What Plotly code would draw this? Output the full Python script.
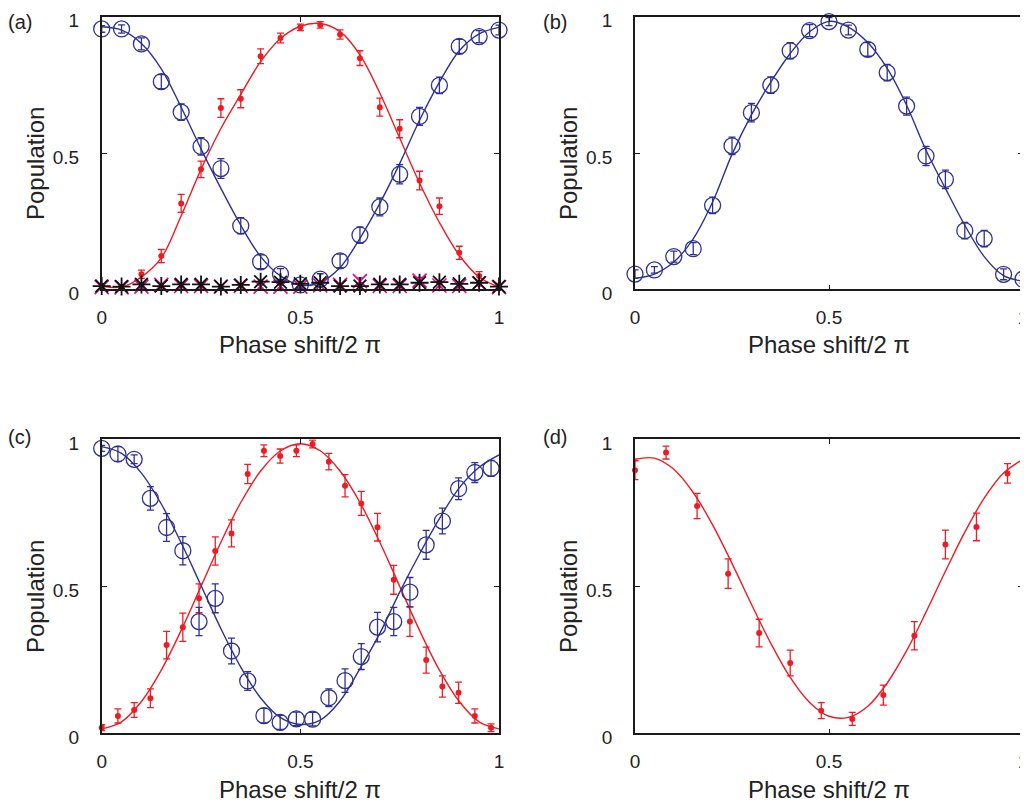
import plotly.graph_objects as go

# ---------------- data ----------------
x_a = [0, 0.05, 0.1, 0.15, 0.2, 0.25, 0.3, 0.35, 0.4, 0.45, 0.5,
       0.55, 0.6, 0.65, 0.7, 0.75, 0.8, 0.85, 0.9, 0.95, 1.0]
blue_a = [0.955, 0.955, 0.90, 0.762, 0.65, 0.524, 0.443, 0.233, 0.101, 0.056, 0.016,
          0.037, 0.104, 0.199, 0.302, 0.422, 0.634, 0.748, 0.891, 0.927, 0.951]
blue_a_err = [0.012, 0.015, 0.022, 0.026, 0.03, 0.032, 0.036, 0.03, 0.025, 0.02, 0.012,
              0.02, 0.025, 0.03, 0.033, 0.035, 0.033, 0.03, 0.026, 0.022, 0.018]
red_a = [0.012, 0.008, 0.055, 0.122, 0.315, 0.44, 0.665, 0.699, 0.855, 0.922, 0.961,
         0.97, 0.935, 0.848, 0.668, 0.589, 0.399, 0.305, 0.134, 0.049, 0.012]
red_a_err = [0.008, 0.008, 0.015, 0.024, 0.033, 0.03, 0.034, 0.033, 0.027, 0.018, 0.012,
             0.012, 0.017, 0.027, 0.033, 0.033, 0.034, 0.03, 0.024, 0.016, 0.01]
black_a = [0.012, 0.01, 0.018, 0.012, 0.018, 0.018, 0.01, 0.016, 0.028, 0.026, 0.02,
           0.024, 0.012, 0.012, 0.018, 0.018, 0.024, 0.026, 0.02, 0.024, 0.01]
magenta_a = [0.008, 0.007, 0.01, 0.016, 0.012, 0.012, 0.01, 0.012, 0.01, 0.01, 0.01,
             0.014, 0.016, 0.03, 0.012, 0.012, 0.032, 0.014, 0.012, 0.022, 0.008]
magenta_a_err = [0.006, 0.006, 0.006, 0.006, 0.006, 0.006, 0.006, 0.006, 0.006, 0.006, 0.006,
                 0.006, 0.006, 0.012, 0.006, 0.006, 0.012, 0.006, 0.006, 0.01, 0.006]

fit_x = [0, 0.05, 0.1, 0.15, 0.2, 0.25, 0.3, 0.35, 0.4, 0.45, 0.5,
         0.55, 0.6, 0.65, 0.7, 0.75, 0.8, 0.85, 0.9, 0.95, 1.0]
fit_red_a = [0.012, 0.008, 0.045, 0.115, 0.27, 0.44, 0.59, 0.715, 0.835, 0.92, 0.965,
             0.975, 0.945, 0.86, 0.72, 0.555, 0.39, 0.245, 0.125, 0.045, 0.008]
fit_blue_a = [0.963, 0.951, 0.902, 0.809, 0.668, 0.515, 0.37, 0.235, 0.12, 0.049, 0.015,
              0.025, 0.08, 0.187, 0.315, 0.461, 0.62, 0.76, 0.875, 0.937, 0.961]

x_b = x_a
blue_b = [0.056, 0.071, 0.12, 0.149, 0.308, 0.526, 0.648, 0.749, 0.875, 0.949, 0.982,
          0.951, 0.88, 0.795, 0.672, 0.489, 0.403, 0.215, 0.186, 0.055, 0.037]
blue_b_err = [0.015, 0.012, 0.02, 0.022, 0.03, 0.032, 0.034, 0.03, 0.03, 0.022, 0.015,
              0.018, 0.025, 0.03, 0.033, 0.035, 0.034, 0.03, 0.03, 0.02, 0.015]
fit_blue_b = [0.04, 0.056, 0.10, 0.185, 0.32, 0.495, 0.64, 0.76, 0.865, 0.945, 0.983,
              0.962, 0.905, 0.81, 0.675, 0.51, 0.37, 0.235, 0.12, 0.05, 0.03]

x_c = [0, 0.0408, 0.0817, 0.1225, 0.1633, 0.2042, 0.245, 0.2858, 0.3267, 0.3675,
       0.4083, 0.4492, 0.49, 0.5308, 0.5717, 0.6125, 0.6533, 0.6942, 0.735, 0.7758,
       0.8167, 0.8575, 0.8983, 0.9392, 0.98]
blue_c = [0.969, 0.950, 0.932, 0.799, 0.700, 0.621, 0.380, 0.459, 0.280, 0.178,
          0.060, 0.037, 0.049, 0.048, 0.121, 0.179, 0.261, 0.361, 0.380, 0.480,
          0.641, 0.722, 0.832, 0.887, 0.901]
blue_c_err = [0.01, 0.025, 0.015, 0.04, 0.047, 0.048, 0.048, 0.049, 0.044, 0.032,
              0.025, 0.024, 0.023, 0.023, 0.03, 0.04, 0.044, 0.05, 0.048, 0.05,
              0.049, 0.044, 0.037, 0.034, 0.027]
red_c = [0.019, 0.059, 0.079, 0.119, 0.300, 0.361, 0.459, 0.620, 0.680, 0.882,
         0.961, 0.943, 0.961, 0.984, 0.924, 0.842, 0.782, 0.701, 0.522, 0.380,
         0.249, 0.159, 0.138, 0.059, 0.019]
red_c_err = [0.01, 0.024, 0.025, 0.032, 0.047, 0.048, 0.049, 0.048, 0.046, 0.033,
             0.02, 0.024, 0.02, 0.013, 0.028, 0.038, 0.041, 0.047, 0.049, 0.05,
             0.044, 0.036, 0.036, 0.024, 0.013]
fit_red_c = [0.015, 0.039, 0.108, 0.215, 0.35, 0.5, 0.65, 0.785, 0.892, 0.961, 0.985,
             0.961, 0.892, 0.785, 0.65, 0.5, 0.35, 0.215, 0.108, 0.039, 0.015]
fit_blue_c = [0.975, 0.952, 0.885, 0.78, 0.648, 0.5025, 0.356, 0.225, 0.12, 0.053, 0.03,
              0.045, 0.11, 0.22, 0.34, 0.48, 0.61, 0.73, 0.835, 0.905, 0.947]

x_d = [0, 0.08, 0.16, 0.24, 0.32, 0.40, 0.48, 0.56, 0.64, 0.72, 0.80, 0.88, 0.96]
red_d = [0.895, 0.955, 0.773, 0.543, 0.341, 0.239, 0.077, 0.049, 0.130, 0.332, 0.642, 0.702, 0.884]
red_d_err = [0.032, 0.022, 0.043, 0.05, 0.047, 0.044, 0.027, 0.022, 0.034, 0.048, 0.049, 0.047, 0.033]
fit_red_d = [0.932, 0.936, 0.898, 0.819, 0.709, 0.578, 0.439, 0.306, 0.19, 0.105, 0.058,
             0.054, 0.092, 0.171, 0.281, 0.412, 0.551, 0.684, 0.80, 0.885, 0.932]

tick_vals = [0, 0.5, 1]
tick_text = ["0", "0.5", "1"]
panel_labels = ["(a)", "(b)", "(c)", "(d)"]
x_title = "Phase shift/2 π"
y_title = "Population"

# ---------------- style ----------------
BLUE = "#2E3192"
RED = "#ED1C24"
MAGENTA = "#EC008C"
OFF = 8                      # page body margin of the html page
W, H = 1028 - OFF, 806 - OFF
FONT = "Liberation Sans, Arial, sans-serif"


def px(p):
    return (p - OFF) / W


def py(p):
    return 1 - (p - OFF) / H


fig = go.Figure()


def blue_pts(x, y, e, ax):
    fig.add_trace(go.Scatter(
        x=x, y=y, mode="markers", xaxis="x" + ax, yaxis="y" + ax, cliponaxis=False,
        marker=dict(symbol="circle-open", size=16, color=BLUE, line=dict(width=1.3, color=BLUE)),
        error_y=dict(type="data", array=e, visible=True, color=BLUE, thickness=1.3, width=3.5),
        showlegend=False))


def red_pts(x, y, e, ax):
    fig.add_trace(go.Scatter(
        x=x, y=y, mode="markers", xaxis="x" + ax, yaxis="y" + ax, cliponaxis=False,
        marker=dict(symbol="circle", size=6, color=RED),
        error_y=dict(type="data", array=e, visible=True, color=RED, thickness=1.3, width=3.5),
        showlegend=False))


def fit_line(x, y, color, ax):
    fig.add_trace(go.Scatter(
        x=x, y=y, mode="lines", xaxis="x" + ax, yaxis="y" + ax,
        line=dict(color=color, width=1.4, shape="spline", smoothing=1.0),
        showlegend=False))


# panel (a)
fit_line(fit_x, fit_red_a, RED, "")
fit_line(fit_x, fit_blue_a, BLUE, "")
fig.add_trace(go.Scatter(
    x=x_a, y=magenta_a, mode="markers", cliponaxis=False,
    marker=dict(symbol="x-thin-open", size=14, color=MAGENTA, line=dict(width=1.6, color=MAGENTA)),
    error_y=dict(type="data", array=magenta_a_err, visible=True, color=MAGENTA, thickness=1.3, width=3),
    showlegend=False))
red_pts(x_a, red_a, red_a_err, "")
blue_pts(x_a, blue_a, blue_a_err, "")
fig.add_trace(go.Scatter(
    x=x_a, y=black_a, mode="markers", cliponaxis=False,
    marker=dict(symbol="asterisk-open", size=15, color="#111111", line=dict(width=1.8, color="#111111")),
    showlegend=False))

# panel (b)
fit_line(fit_x, fit_blue_b, BLUE, "2")
blue_pts(x_b, blue_b, blue_b_err, "2")

# panel (c)
fit_line(fit_x, fit_red_c, RED, "3")
fit_line(fit_x, fit_blue_c, BLUE, "3")
red_pts(x_c, red_c, red_c_err, "3")
blue_pts(x_c, blue_c, blue_c_err, "3")

# panel (d)
fit_line(fit_x, fit_red_d, RED, "4")
red_pts(x_d, red_d, red_d_err, "4")

# ---------------- axes ----------------
left_x = [px(101.7), px(499)]
right_x = [px(635), px(1023)]
top_y = [py(289.3), py(16.7)]
bot_y = [py(733.3), py(439.3)]

common = dict(range=[0, 1], showgrid=False, zeroline=False, showline=True,
              linecolor="#1a1a1a", linewidth=1.6, mirror="ticks", ticks="inside",
              ticklen=5, tickwidth=1.2, tickcolor="#1a1a1a",
              tickvals=tick_vals, ticktext=tick_text, automargin=False,
              ticklabeloverflow="allow",
              tickfont=dict(family=FONT, size=19, color="#222222"))

layout_axes = {}
for i, (dx, dy) in enumerate([(left_x, top_y), (right_x, top_y), (left_x, bot_y), (right_x, bot_y)]):
    s = "" if i == 0 else str(i + 1)
    layout_axes["xaxis" + s] = dict(common, domain=dx, anchor="y" + s, ticklabelstandoff=10)
    layout_axes["yaxis" + s] = dict(common, domain=dy, anchor="x" + s, ticklabelstandoff=17,
                                    ticklabelshift=4)

annotations = []
for lab, (lx, ly) in zip(panel_labels, [(20, 22), (555, 22), (19, 437), (555, 437)]):
    annotations.append(dict(text=lab, x=px(lx), y=py(ly), xref="paper", yref="paper",
                            showarrow=False, xanchor="center", yanchor="middle",
                            font=dict(family=FONT, size=20, color="#222222")))
for cx, cy in [(300, 345), (829, 345), (300, 789), (829, 789)]:
    annotations.append(dict(text=x_title, x=px(cx), y=py(cy), xref="paper", yref="paper",
                            showarrow=False, xanchor="center", yanchor="middle",
                            font=dict(family=FONT, size=24, color="#222222")))
for cx, cy in [(35, 164), (568, 164), (35, 597), (568, 597)]:
    annotations.append(dict(text=y_title, x=px(cx), y=py(cy), xref="paper", yref="paper",
                            showarrow=False, xanchor="center", yanchor="middle", textangle=-90,
                            font=dict(family=FONT, size=24, color="#222222")))

fig.update_layout(
    width=W, height=H, margin=dict(l=0, r=0, t=0, b=0, autoexpand=False),
    paper_bgcolor="white", plot_bgcolor="white",
    annotations=annotations, **layout_axes)

fig.write_html("out.html")
